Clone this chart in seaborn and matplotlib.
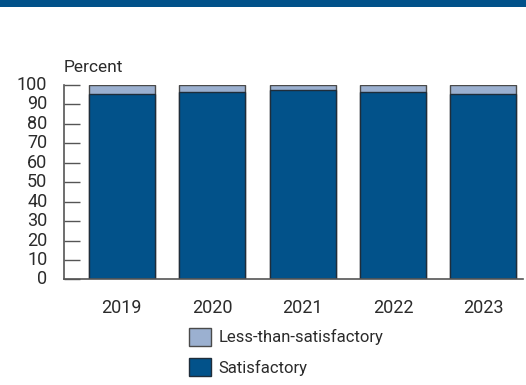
import matplotlib
matplotlib.use("Agg")
import matplotlib.pyplot as plt
import seaborn as sns
import pandas as pd
from matplotlib.patches import Patch, Rectangle

years = ["2019", "2020", "2021", "2022", "2023"]
satisfactory = [95.2, 96.2, 97.3, 96.2, 95.2]
less_than = [4.8, 3.8, 2.7, 3.8, 4.8]
yticks = [0, 10, 20, 30, 40, 50, 60, 70, 80, 90, 100]

DARK = "#02528A"
LIGHT = "#9BB0D0"
TEXT = "#2b2b2b"
AXC = "#555555"

sns.set_theme(style="white")
plt.rcParams["font.family"] = ["Roboto", "DejaVu Sans"]

df = pd.DataFrame({"year": years, "sat": satisfactory, "less": less_than})
df["total"] = df["sat"] + df["less"]

fig = plt.figure(figsize=(5.26, 3.85), dpi=100)
ax = fig.add_axes([64 / 526, 1 - 279.4 / 385, (523 - 64) / 526, (279.4 - 85) / 385])

sns.barplot(data=df, x="year", y="total", color=LIGHT, width=0.73, ax=ax,
            edgecolor="#4a4a4a", linewidth=1.0, saturation=1)
sns.barplot(data=df, x="year", y="sat", color=DARK, width=0.73, ax=ax,
            edgecolor="#1f2d3a", linewidth=1.0, saturation=1)

ax.set_xlim(-0.64, 4.44)
ax.set_ylim(0, 100)
ax.set_yticks(yticks)
ax.set_yticklabels([str(v) for v in yticks])
ax.set_xlabel("")
ax.set_ylabel("")

for s in ["top", "right"]:
    ax.spines[s].set_visible(False)
for s in ["left", "bottom"]:
    ax.spines[s].set_color(AXC)
    ax.spines[s].set_linewidth(1.2)

ax.tick_params(axis="y", left=True, direction="in", length=11.5, width=1.0, color=AXC,
               pad=12, labelsize=13, labelcolor=TEXT)
ax.tick_params(axis="x", bottom=False, length=0, pad=14, labelsize=13, labelcolor=TEXT)
for lab in ax.get_yticklabels():
    lab.set_verticalalignment("center")

ax.text(0.0, 1.0 + 17 / 194.4, "Percent", transform=ax.transAxes, ha="left",
        va="center", fontsize=12.5, color=TEXT)

# top banner
fig.patches.append(Rectangle((0, 1 - 7 / 385), 1, 7 / 385, transform=fig.transFigure,
                             facecolor=DARK, edgecolor="none", zorder=0))

handles = [Patch(facecolor=LIGHT, edgecolor="#4a4a4a", linewidth=1.0),
           Patch(facecolor=DARK, edgecolor="#1f2d3a", linewidth=1.0)]
fig.legend(handles, ["Less-than-satisfactory", "Satisfactory"], loc="upper left",
           bbox_to_anchor=(189 / 526, 1 - 328 / 385), frameon=False, fontsize=12,
           handlelength=1.3, handleheight=1.25, handletextpad=0.45,
           labelspacing=0.75, borderpad=0, borderaxespad=0, labelcolor=TEXT)

fig.savefig("out.png", dpi=100)
